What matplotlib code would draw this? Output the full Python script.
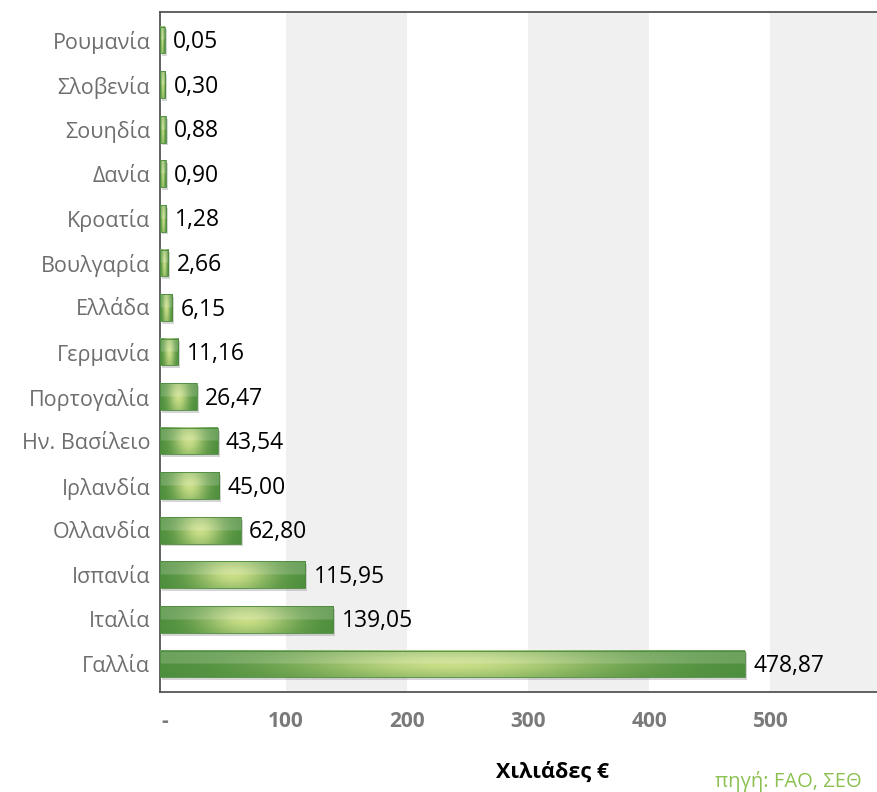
import matplotlib
matplotlib.use("Agg")
import matplotlib.pyplot as plt
import matplotlib.patheffects as pe
import numpy as np

countries = ["Ρουμανία", "Σλοβενία", "Σουηδία", "Δανία", "Κροατία", "Βουλγαρία",
             "Ελλάδα", "Γερμανία", "Πορτογαλία", "Ην. Βασίλειο", "Ιρλανδία",
             "Ολλανδία", "Ισπανία", "Ιταλία", "Γαλλία"]
values = [0.05, 0.30, 0.88, 0.90, 1.28, 2.66, 6.15, 11.16, 26.47, 43.54,
          45.00, 62.80, 115.95, 139.05, 478.87]
value_labels = ["0,05", "0,30", "0,88", "0,90", "1,28", "2,66", "6,15", "11,16",
                "26,47", "43,54", "45,00", "62,80", "115,95", "139,05", "478,87"]
xticks = [0, 100, 200, 300, 400, 500]
xtick_labels = ["-", "100", "200", "300", "400", "500"]

plt.rcParams['font.family'] = ['Open Sans', 'DejaVu Sans']

X0, X1 = -4, 645
bar_h = 0.6
dark = np.array([0.29, 0.55, 0.23])
light = np.array([0.79, 0.87, 0.53])

fig = plt.figure(figsize=(8.77, 7.92), dpi=100)
ax = fig.add_axes([160 / 877, 1 - 692 / 792, 786 / 877, 680 / 792])

# alternating bands
for lo in [100, 300, 500]:
    ax.axvspan(lo, lo + 100, color="#f0f0f0", lw=0, zorder=0)

y = np.arange(len(countries))
ax.barh(y, np.array(values) - X0, left=X0, height=bar_h, color="#4a8c3a", lw=0, zorder=2,
        path_effects=[pe.SimplePatchShadow(offset=(1.5, -2), shadow_rgbFace="#888888", alpha=0.35),
                      pe.Normal()])

# gradient fill for each bar
u = np.linspace(0, 1, 200)
v = np.linspace(0, 1, 40)
gx = np.exp(-((u - 0.5) / 0.28) ** 2)
gy = np.exp(-((v - 0.5) / 0.45) ** 2)
t = gy[:, None] * 0.45 + 0.55
t = t * gx[None, :]
img = dark + (light - dark) * t[:, :, None]
top = v < 0.5
img[top] = img[top] * 0.83 + 0.17
for yi, val in zip(y, values):
    ax.imshow(img, extent=(X0, val, yi + bar_h / 2, yi - bar_h / 2), aspect="auto",
              zorder=3, interpolation="bilinear")
ax.barh(y, np.array(values) - X0, left=X0, height=bar_h, facecolor="none",
        edgecolor="#4a8a3a", lw=0.6, zorder=4)

for yi, val, lab in zip(y, values, value_labels):
    ax.annotate(lab, (val, yi), xytext=(6, -1.5), textcoords="offset points",
                va="center", ha="left", fontsize=16.5, color="black", zorder=5)

ax.set_xlim(X0, X1)
ax.set_ylim(len(countries) - 1 + 0.63, -0.63)
ax.set_yticks(y)
ax.set_yticklabels(countries, fontsize=15.5, color="#6e6e6e")
ax.set_xticks(xticks)
ax.set_xticklabels(xtick_labels, fontsize=15, color="#7a7a7a", fontweight="bold")
ax.tick_params(axis="both", length=0)
ax.tick_params(axis="x", pad=14)
ax.tick_params(axis="y", pad=7)

for s in ["left", "top", "bottom"]:
    ax.spines[s].set_color("#555555")
    ax.spines[s].set_linewidth(1.3)
ax.spines["right"].set_visible(False)

ax.set_xlabel("Χιλιάδες €", fontsize=15.5, fontweight="bold", color="black", labelpad=21)
fig.text(862 / 877, 1 - 781 / 792, "πηγή: FAO, ΣΕΘ", ha="right", va="center",
         fontsize=14.5, color="#8cc152")

fig.savefig("out.png", dpi=100)
